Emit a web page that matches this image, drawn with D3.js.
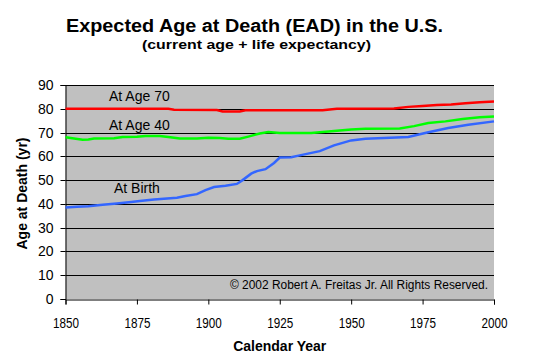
<!DOCTYPE html>
<html><head><meta charset="utf-8">
<script src="https://cdn.jsdelivr.net/npm/d3@7"></script>
<style>body{margin:0;background:#fff}svg{display:block}text{font-family:Arial,"Liberation Sans",sans-serif;fill:#000}</style>
</head><body>
<script>
const xTicks = [1850,1875,1900,1925,1950,1975,2000];
const yTicks = [0,10,20,30,40,50,60,70,80,90];

const age70Years  = [1850,1886,1888,1903,1905,1911,1913,1940,1945,1965,1970,1975,1980,1985,1990,1995,2000];
const age70Values = [80.0,80.0,79.6,79.5,78.9,78.9,79.4,79.4,80.0,80.1,80.8,81.2,81.6,81.8,82.3,82.7,83.1];

const age40Years  = [1850,1853,1856,1858,1860,1867,1870,1875,1878,1883,1886,1890,1896,1900,1904,1907,1911,1914,1918,1921,1925,1936,1940,1945,1950,1955,1967,1972,1977,1983,1989,1995,2000];
const age40Values = [68.0,67.5,67.0,67.1,67.5,67.6,68.1,68.2,68.5,68.5,68.1,67.5,67.5,67.8,67.7,67.4,67.4,68.3,69.6,70.2,69.8,69.8,70.2,70.8,71.3,71.6,71.7,72.7,74.0,74.7,75.7,76.4,76.8];

const birthYears  = [1850,1854,1858,1863,1868,1873,1876,1881,1889,1892,1896,1899,1902,1906,1910,1912,1915,1917,1920,1923,1925,1929,1932,1939,1944,1950,1955,1970,1977,1984,1991,2000];
const birthValues = [38.5,38.8,39.0,39.6,40.2,40.8,41.2,41.8,42.6,43.3,44.1,45.8,47.1,47.6,48.4,50.0,52.7,53.8,54.6,57.2,59.5,59.6,60.4,62.2,64.6,66.7,67.4,68.1,70.1,71.9,73.3,74.7];

const seriesNames = ["At Age 70","At Age 40","At Birth"];

const W=536,H=358, L=65.5, R=494, T=85, B=299;
const svg = d3.select("body").append("svg").attr("width",W).attr("height",H);
const x = d3.scaleLinear().domain([1850,2000]).range([L,R]);
const y = d3.scaleLinear().domain([0,90]).range([B,T]);

svg.append("rect").attr("x",L).attr("y",T).attr("width",R-L).attr("height",B-T).attr("fill","#c0c0c0");

// gridlines
svg.append("g").selectAll("line").data(yTicks.filter(d=>d>0)).join("line")
  .attr("x1",L).attr("x2",R).attr("y1",d=>Math.round(y(d))+0.5).attr("y2",d=>Math.round(y(d))+0.5)
  .attr("stroke","#000").attr("stroke-width",1);

// axes
const yAxis = svg.append("g").attr("transform",`translate(${L},0)`)
  .call(d3.axisLeft(y).tickValues(yTicks).tickSize(5).tickPadding(7));
yAxis.select(".domain").attr("stroke","#000");
yAxis.selectAll("text").style("font-size","14px").attr("fill","#000");
yAxis.selectAll("line").attr("stroke","#000");
yAxis.selectAll(".tick").attr("transform",d=>`translate(0,${Math.round(y(d))+0.5})`);

const xAxis = svg.append("g").attr("transform",`translate(0,${B+0.5})`)
  .call(d3.axisBottom(x).tickValues(xTicks).tickFormat(d3.format("d")).tickSize(5).tickPadding(12));
xAxis.select(".domain").attr("stroke","#000");
xAxis.selectAll("text").style("font-size","15.5px").attr("fill","#000")
  .attr("textLength",26).attr("lengthAdjust","spacingAndGlyphs");
xAxis.selectAll("line").attr("stroke","#000");

// lines
const line = d3.line().x(d=>x(d[0])).y(d=>y(d[1]));
const series = [
  {years:age70Years, values:age70Values, color:"#ff0000"},
  {years:age40Years, values:age40Values, color:"#00ff00"},
  {years:birthYears, values:birthValues, color:"#3366ff"}
];
series.forEach(s=>{
  svg.append("path").datum(s.years.map((yr,i)=>[yr,s.values[i]]))
    .attr("d",line).attr("fill","none").attr("stroke",s.color).attr("stroke-width",2.5);
});

// series labels
const lab = [[109,100.7],[109,130],[114,193]];
seriesNames.forEach((n,i)=>{
  svg.append("text").attr("x",lab[i][0]).attr("y",lab[i][1]).style("font-size","14px").text(n);
});

// copyright
svg.append("text").attr("x",230).attr("y",288.5).style("font-size","12px")
  .attr("textLength",258).attr("lengthAdjust","spacingAndGlyphs")
  .text("© 2002 Robert A. Freitas Jr. All Rights Reserved.");

// titles
svg.append("text").attr("x",66).attr("y",31.5).style("font-size","18px").style("font-weight","bold")
  .attr("textLength",377).attr("lengthAdjust","spacingAndGlyphs")
  .text("Expected Age at Death (EAD) in the U.S.");
svg.append("text").attr("x",142).attr("y",49).style("font-size","13px").style("font-weight","bold")
  .attr("textLength",229).attr("lengthAdjust","spacingAndGlyphs")
  .text("(current age + life expectancy)");
svg.append("text").attr("x",(L+R)/2).attr("y",350.5).attr("text-anchor","middle")
  .style("font-size","14px").style("font-weight","bold").text("Calendar Year");
svg.append("text").attr("transform","translate(27,193.5) rotate(-90)").attr("text-anchor","middle")
  .style("font-size","14px").style("font-weight","bold").text("Age at Death (yr)");
</script>
</body></html>
